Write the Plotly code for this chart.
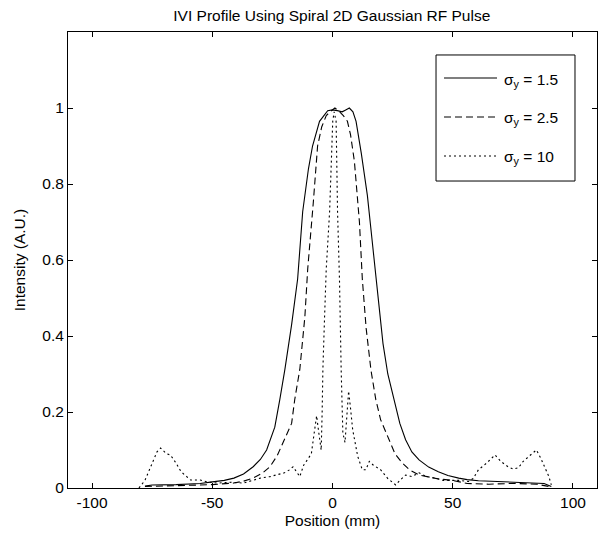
import plotly.graph_objects as go

# sigma_y = 1.5 (solid)
x_s15 = [-78, -75, -65, -55, -50, -45, -41, -37, -33, -30, -27.4, -24, -21.9, -19.8, -17, -14.5,
         -12.4, -10, -8.3, -5.4, -2, 0, 2, 4, 5.5, 7, 8.5, 9.8, 12, 14.5, 16.5, 19, 21, 23, 25.6,
         28, 30.4, 33, 36, 40, 44, 48, 52.5, 56, 60.7, 70, 80, 88, 91]
y_s15 = [0.005, 0.008, 0.009, 0.012, 0.016, 0.02, 0.026, 0.037, 0.056, 0.075, 0.10, 0.16, 0.233,
         0.312, 0.43, 0.55, 0.727, 0.84, 0.90, 0.965, 0.993, 0.995, 0.993, 0.99, 0.995, 1.0, 0.99,
         0.965, 0.88, 0.77, 0.65, 0.5, 0.38, 0.3, 0.233, 0.17, 0.127, 0.095, 0.074, 0.055, 0.043,
         0.033, 0.026, 0.022, 0.019, 0.016, 0.014, 0.012, 0.004]

# sigma_y = 2.5 (dashed)
x_s25 = [-78, -70, -60, -50, -41, -37, -33, -29, -26, -23, -20.7, -17, -15.7, -13.6, -11.5, -10.3,
         -8, -6.2, -4.5, -2.6, -1, 1, 3, 4.5, 6.2, 7.5, 9.1, 11.2, 12.4, 14, 16, 18, 20, 23.6, 26,
         29, 32, 36, 40, 44, 50, 56, 65, 75, 85, 90]
y_s25 = [0.004, 0.006, 0.007, 0.009, 0.013, 0.018, 0.026, 0.04, 0.056, 0.085, 0.119, 0.17, 0.233,
         0.312, 0.45, 0.577, 0.75, 0.90, 0.95, 0.98, 0.99, 1.0, 0.99, 0.98, 0.965, 0.93, 0.86, 0.70,
         0.55, 0.42, 0.31, 0.233, 0.18, 0.127, 0.09, 0.066, 0.048, 0.034, 0.028, 0.024, 0.02, 0.012,
         0.01, 0.012, 0.01, 0.004]

# sigma_y = 10 (dotted)
x_s10 = [-80.5, -78, -75.6, -73, -71.5, -69, -67.4, -65, -63, -59, -55, -52, -48, -42, -37, -33,
         -30, -26, -23.3, -20, -17.8, -16.4, -13.6, -12, -10.9, -8.8, -7.5, -6.6, -5.8, -5, -4.7,
         -4.3, -4, -3.3, -2.6, -1.2, 0.1, 0.7, 1.5, 2.1, 2.9, 3.6, 4.3, 5.2, 6.2, 6.7, 7.5, 8.4,
         10.5, 12.4, 13.9, 15.3, 17, 20, 23, 26.3, 28, 30.4, 33, 36, 39, 42.8, 46, 49.6, 53, 56.6,
         58.5, 60.7, 64, 67.6, 70, 73, 75, 77.3, 79.3, 82, 84.8, 86.5, 88.3, 90, 91]
y_s10 = [0.0, 0.02, 0.056, 0.095, 0.105, 0.09, 0.087, 0.065, 0.043, 0.021, 0.021, 0.016, 0.013,
         0.015, 0.013, 0.02, 0.026, 0.03, 0.035, 0.04, 0.048, 0.056, 0.03, 0.06, 0.07, 0.09, 0.15,
         0.19, 0.15, 0.11, 0.1, 0.2, 0.312, 0.45, 0.577, 0.727, 0.965, 0.99, 0.965, 0.727, 0.55,
         0.312, 0.145, 0.12, 0.233, 0.255, 0.21, 0.153, 0.083, 0.048, 0.048, 0.07, 0.06, 0.048,
         0.025, 0.008, 0.02, 0.034, 0.03, 0.04, 0.03, 0.026, 0.02, 0.021, 0.02, 0.017, 0.025, 0.048,
         0.065, 0.087, 0.07, 0.056, 0.05, 0.053, 0.07, 0.085, 0.10, 0.08, 0.056, 0.03, 0.008]

series_names = ["σ<sub>y</sub> = 1.5", "σ<sub>y</sub> = 2.5", "σ<sub>y</sub> = 10"]
series_dash = ["solid", "7px,4px", "2px,3px"]

x_ticks = [-100, -50, 0, 50, 100]
x_tick_text = ["-100", "-50", "0", "50", "100"]
y_ticks = [0, 0.2, 0.4, 0.6, 0.8, 1]
y_tick_text = ["0", "0.2", "0.4", "0.6", "0.8", "1"]

FONT = "Liberation Sans, Arial, Helvetica, sans-serif"
FS = 15.5

fig = go.Figure()
for xs, ys, nm, ds in zip([x_s15, x_s25, x_s10], [y_s15, y_s25, y_s10], series_names, series_dash):
    fig.add_trace(go.Scatter(x=xs, y=ys, mode="lines", name=nm, showlegend=False,
                             line=dict(color="black", width=1.1, dash=ds)))

# manual legend box (paper coordinates)
fig.add_shape(type="rect", xref="paper", yref="paper", x0=0.6957, x1=0.9584, y0=0.6732, y1=0.9496,
              line=dict(color="black", width=1), fillcolor="white", layer="above")
leg_y = [0.8991, 0.8136, 0.7281]
for ly, nm, ds in zip(leg_y, series_names, series_dash):
    fig.add_shape(type="line", xref="paper", yref="paper", x0=0.7108, x1=0.8110, y0=ly, y1=ly,
                  line=dict(color="black", width=1.1, dash=ds), layer="above")
    fig.add_annotation(xref="paper", yref="paper", x=0.8204, y=ly, text=nm, showarrow=False,
                       xanchor="left", yanchor="middle", yshift=-2,
                       font=dict(family=FONT, size=FS, color="black"))

axis_common = dict(showline=True, linecolor="black", linewidth=1, mirror="ticks",
                   ticks="inside", ticklen=5, tickcolor="black", showgrid=False, zeroline=False,
                   automargin=False, tickfont=dict(family=FONT, size=FS, color="black"))

fig.update_layout(
    width=600, height=538,
    margin=dict(l=68, r=3, t=32, b=50),
    paper_bgcolor="white", plot_bgcolor="white",
    font=dict(family=FONT, size=FS, color="black"),
    title=dict(text="IVI Profile Using Spiral 2D Gaussian RF Pulse", x=0.553, xanchor="center",
               y=1 - 16 / 538, yanchor="middle", font=dict(family=FONT, size=FS, color="black")),
    xaxis=dict(range=[-110, 110], tickvals=x_ticks, ticktext=x_tick_text,
               title=dict(text="Position (mm)", standoff=5, font=dict(family=FONT, size=FS)),
               **axis_common),
    yaxis=dict(range=[0, 1.2], tickvals=y_ticks, ticktext=y_tick_text,
               title=dict(text="Intensity (A.U.)", standoff=12, font=dict(family=FONT, size=FS)),
               **axis_common),
    showlegend=False,
)

fig.write_html("out.html")
